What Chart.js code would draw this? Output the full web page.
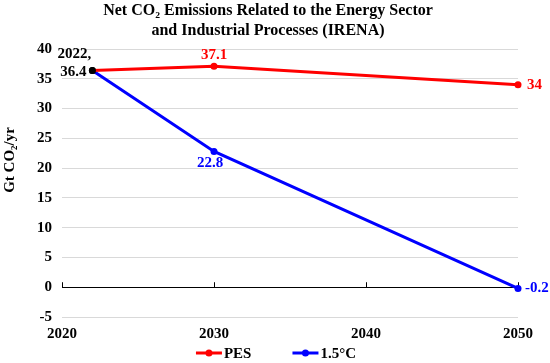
<!DOCTYPE html>
<html>
<head>
<meta charset="utf-8">
<script src="https://cdn.jsdelivr.net/npm/chart.js@4"></script>
<style>
  html, body { margin: 0; padding: 0; background: #fff; }
  #wrap { width: 550px; height: 363px; }
</style>
</head>
<body>
<div id="wrap"><canvas id="chart" width="550" height="363"></canvas></div>
<script>
// dados do gráfico
const years = [2022, 2030, 2050];
const pesValues = [36.4, 37.1, 34];
const c15Values = [36.4, 22.8, -0.2];
const pesLabels = ['', '37.1', '34'];
const c15Labels = ['', '22.8', '-0.2'];
const startLabel = ['2022,', '36.4'];
const xTicks = [2020, 2030, 2040, 2050];
const yTicks = [-5, 0, 5, 10, 15, 20, 25, 30, 35, 40];
const titleLines = ['Net CO\u2082 Emissions Related to the Energy Sector', 'and Industrial Processes (IRENA)'];
const yTitle = 'Gt CO\u2082/yr';

const SERIF = '"Liberation Serif", "Times New Roman", serif';
const RED = '#ff0000', BLUE = '#0000ff';

// posição dos rótulos (dx, dy, alinhamento) por série
const labelPos = [
  [null, { dx: 0, dy: -11, align: 'center' }, { dx: 9, dy: 0, align: 'left' }],
  [null, { dx: -4, dy: 12, align: 'center' }, { dx: 7, dy: 0, align: 'left' }]
];

const labelPlugin = {
  id: 'pointLabels',
  beforeDatasetsDraw(chart) {
    // marcas do eixo x sobre a linha do zero
    const ctx = chart.ctx, xs = chart.scales.x, y0 = chart.scales.y.getPixelForValue(0);
    ctx.save();
    ctx.strokeStyle = '#000';
    ctx.lineWidth = 1;
    xTicks.forEach(v => {
      const x = Math.round(xs.getPixelForValue(v)) + 0.5;
      ctx.beginPath(); ctx.moveTo(x, y0); ctx.lineTo(x, y0 - 5); ctx.stroke();
    });
    ctx.restore();
  },
  afterDatasetsDraw(chart) {
    const ctx = chart.ctx;
    ctx.save();
    ctx.font = 'bold 15px ' + SERIF;
    ctx.textBaseline = 'middle';
    chart.data.datasets.forEach((ds, i) => {
      const meta = chart.getDatasetMeta(i);
      ds.pointLabels.forEach((t, j) => {
        if (!t) return;
        const p = meta.data[j];
        const o = labelPos[i][j];
        ctx.fillStyle = ds.borderColor;
        ctx.textAlign = o.align;
        ctx.fillText(t, p.x + o.dx, p.y + o.dy);
      });
    });
    // rótulo do ponto inicial (comum)
    const p0 = chart.getDatasetMeta(0).data[0];
    ctx.fillStyle = '#000';
    ctx.textAlign = 'center';
    ctx.fillText(startLabel[0], p0.x - 18, p0.y - 16);
    ctx.fillText(startLabel[1], p0.x - 19, p0.y + 2);
    ctx.restore();
  },
  afterDraw(chart) {
    const ctx = chart.ctx;
    ctx.save();
    // título
    ctx.fillStyle = '#000';
    ctx.font = 'bold 16px ' + SERIF;
    ctx.textAlign = 'center';
    ctx.textBaseline = 'alphabetic';
    ctx.fillText(titleLines[0], 268, 15);
    ctx.fillText(titleLines[1], 268, 35);
    // título do eixo y
    ctx.font = 'bold 15px ' + SERIF;
    ctx.translate(14, 160);
    ctx.rotate(-Math.PI / 2);
    ctx.fillText(yTitle, 0, 0);
    ctx.setTransform(1, 0, 0, 1, 0, 0);
    // legenda
    const ds = chart.data.datasets;
    ctx.font = 'bold 15px ' + SERIF;
    const lineW = 26, gapTxt = 2, gapItem = 41;
    const widths = ds.map(d => lineW + gapTxt + ctx.measureText(d.label).width);
    const total = widths.reduce((s, w) => s + w, 0) + gapItem * (ds.length - 1);
    let x = 276 - total / 2;
    const y = 353;
    ctx.textAlign = 'left';
    ctx.textBaseline = 'middle';
    ds.forEach((d, i) => {
      ctx.strokeStyle = d.borderColor;
      ctx.lineWidth = 3;
      ctx.beginPath(); ctx.moveTo(x, y); ctx.lineTo(x + lineW, y); ctx.stroke();
      ctx.fillStyle = d.borderColor;
      ctx.beginPath(); ctx.arc(x + lineW / 2, y, 3.5, 0, Math.PI * 2); ctx.fill();
      ctx.fillStyle = '#000';
      ctx.fillText(d.label, x + lineW + gapTxt, y + 1);
      x += widths[i] + gapItem;
    });
    ctx.restore();
  }
};

function pts(vals) { return years.map((x, i) => ({ x, y: vals[i] })); }

new Chart(document.getElementById('chart'), {
  type: 'line',
  data: {
    datasets: [
      { label: 'PES', data: pts(pesValues), pointLabels: pesLabels,
        borderColor: RED, pointBackgroundColor: ['#000', RED, RED] },
      { label: '1.5\u00b0C', data: pts(c15Values), pointLabels: c15Labels,
        borderColor: BLUE, pointBackgroundColor: ['#000', BLUE, BLUE] }
    ]
  },
  options: {
    responsive: false,
    animation: false,
    layout: { padding: { top: 49, right: 32, bottom: 20, left: 0 } },
    elements: {
      line: { borderWidth: 3, tension: 0 },
      point: { radius: 3.5, borderWidth: 0, hoverRadius: 3.5 }
    },
    datasets: { line: { clip: 8 } },
    plugins: { legend: { display: false }, title: { display: false }, tooltip: { enabled: false } },
    scales: {
      x: {
        type: 'linear', min: 2020, max: 2050,
        afterBuildTicks: s => { s.ticks = xTicks.map(v => ({ value: v })); },
        afterFit: s => { s.height = 26; s.paddingRight = 0; s.paddingLeft = 0; },
        grid: { display: false, drawTicks: false },
        border: { display: false },
        ticks: { color: '#000', padding: 8, font: { family: SERIF, size: 15, weight: 'bold' }, callback: v => String(v) }
      },
      y: {
        min: -5, max: 40,
        afterBuildTicks: s => { s.ticks = yTicks.map(v => ({ value: v })); },
        afterFit: s => { s.width = 62; },
        grid: { drawTicks: false, color: c => c.tick && c.tick.value === 0 ? '#000' : '#d9d9d9', lineWidth: 1 },
        border: { display: false },
        ticks: { color: '#000', padding: 10, font: { family: SERIF, size: 15, weight: 'bold' } }
      }
    }
  },
  plugins: [labelPlugin]
});
</script>
</body>
</html>
